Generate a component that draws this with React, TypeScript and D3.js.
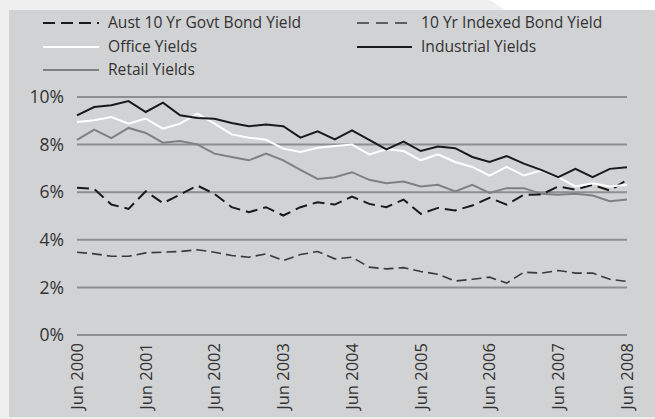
import React from "react";
import * as d3 from "d3";

const quarters: string[] = Array.from({ length: 33 }, (_, i) => {
  const m = ["Jun", "Sep", "Dec", "Mar"][i % 4];
  const y = 2000 + Math.floor((i + 2) / 4);
  return `${m} ${y}`;
});

const tickLabels = ["Jun 2000", "Jun 2001", "Jun 2002", "Jun 2003", "Jun 2004", "Jun 2005", "Jun 2006", "Jun 2007", "Jun 2008"];
const yTicks = [0, 2, 4, 6, 8, 10];

const govtBond = [6.19, 6.14, 5.48, 5.3, 6.04, 5.54, 5.9, 6.28, 5.93, 5.37, 5.16, 5.37, 5.02, 5.37, 5.58, 5.48, 5.82, 5.51, 5.37, 5.69, 5.09, 5.34, 5.23, 5.44, 5.76, 5.48, 5.89, 5.9, 6.24, 6.11, 6.31, 6.07, 6.52];
const indexedBond = [3.48, 3.41, 3.31, 3.31, 3.45, 3.48, 3.51, 3.58, 3.48, 3.34, 3.27, 3.41, 3.13, 3.38, 3.51, 3.2, 3.27, 2.85, 2.78, 2.83, 2.67, 2.55, 2.27, 2.34, 2.43, 2.18, 2.64, 2.6, 2.71, 2.6, 2.6, 2.34, 2.25];
const office = [8.95, 9.02, 9.16, 8.88, 9.09, 8.67, 8.88, 9.3, 8.88, 8.43, 8.29, 8.2, 7.83, 7.69, 7.87, 7.94, 8.0, 7.59, 7.8, 7.73, 7.34, 7.59, 7.27, 7.06, 6.7, 7.06, 6.7, 6.91, 6.63, 6.24, 6.38, 6.24, 6.31];
const industrial = [9.23, 9.58, 9.65, 9.83, 9.37, 9.76, 9.23, 9.12, 9.09, 8.91, 8.77, 8.84, 8.77, 8.29, 8.56, 8.22, 8.6, 8.2, 7.8, 8.13, 7.73, 7.92, 7.85, 7.48, 7.27, 7.52, 7.2, 6.94, 6.63, 6.98, 6.63, 6.98, 7.05];
const retail = [8.2, 8.63, 8.27, 8.7, 8.49, 8.08, 8.15, 8.01, 7.62, 7.48, 7.34, 7.62, 7.34, 6.94, 6.56, 6.63, 6.84, 6.52, 6.38, 6.45, 6.24, 6.31, 6.03, 6.31, 5.97, 6.17, 6.17, 5.93, 5.89, 5.93, 5.86, 5.62, 5.69];

const seriesNames = ["Aust 10 Yr Govt Bond Yield", "10 Yr Indexed Bond Yield", "Office Yields", "Industrial Yields", "Retail Yields"];

const FONT = "'Open Sans', sans-serif";

export default function App() {
  const W = 655, H = 419;
  const x = d3.scalePoint<string>().domain(quarters).range([77, 627]);
  const y = d3.scaleLinear().domain([0, 10]).range([335, 97]);
  const line = d3.line<number>().x((_, i) => x(quarters[i])!).y((d) => y(d));

  const series = [
    { name: seriesNames[4], data: retail, stroke: "#808080", w: 2, dash: undefined },
    { name: seriesNames[1], data: indexedBond, stroke: "#3a3a3a", w: 1.6, dash: "10,5" },
    { name: seriesNames[0], data: govtBond, stroke: "#1a1a1a", w: 2, dash: "12,6" },
    { name: seriesNames[2], data: office, stroke: "#ffffff", w: 2, dash: undefined },
    { name: seriesNames[3], data: industrial, stroke: "#1a1a1a", w: 2, dash: undefined },
  ];

  const legend = [
    { name: seriesNames[0], x0: 43, x1: 99, tx: 108, y: 23, stroke: "#1a1a1a", w: 2, dash: "12,6" },
    { name: seriesNames[1], x0: 357, x1: 407, tx: 421, y: 23, stroke: "#3a3a3a", w: 1.6, dash: "12,7" },
    { name: seriesNames[2], x0: 43, x1: 99, tx: 108, y: 47, stroke: "#ffffff", w: 2, dash: undefined },
    { name: seriesNames[3], x0: 357, x1: 412, tx: 421, y: 47, stroke: "#1a1a1a", w: 2, dash: undefined },
    { name: seriesNames[4], x0: 43, x1: 99, tx: 108, y: 70, stroke: "#808080", w: 2, dash: undefined },
  ];

  return (
    <svg width={W} height={H} style={{ position: "absolute", left: 0, top: 0 }} fontFamily={FONT}>
      <rect x={0} y={0} width={W} height={H} fill="#efefef" />
      <polygon points="490,0 655,0 655,10 505,10" fill="#ffffff" />
      <rect x={9} y={10} width={W - 9} height={407} fill="#d1d2d4" />
      {legend.map((l) => (
        <g key={l.name}>
          <line x1={l.x0} x2={l.x1} y1={l.y} y2={l.y} stroke={l.stroke} strokeWidth={l.w} strokeDasharray={l.dash} />
          <text x={l.tx} y={l.y} dy="0.35em" fontSize={15.6} fill="#333">{l.name}</text>
        </g>
      ))}
      {yTicks.map((t) => (
        <g key={t}>
          <line x1={77} x2={627} y1={y(t)} y2={y(t)} stroke="#8e8e8e" strokeWidth={2} />
          <text x={64} y={y(t)} dy="0.35em" textAnchor="end" fontSize={17.5} fill="#333">{t}%</text>
        </g>
      ))}
      {series.map((s) => (
        <path key={s.name} d={line(s.data) || ""} fill="none" stroke={s.stroke} strokeWidth={s.w} strokeDasharray={s.dash} strokeLinejoin="miter" />
      ))}
      {tickLabels.map((t) => (
        <text key={t} transform={`translate(${x(t)},343) rotate(-90)`} textAnchor="end" dy="0.35em" fontSize={16.5} fill="#333">{t}</text>
      ))}
    </svg>
  );
}
